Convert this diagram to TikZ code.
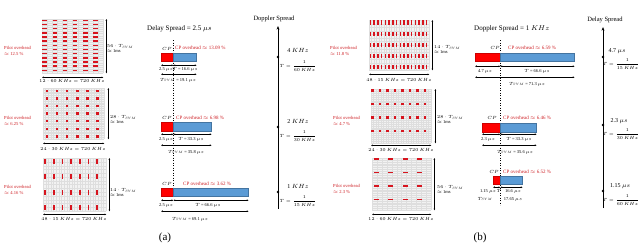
\RequirePackage{fix-cm}
\documentclass[tikz,border=0pt]{standalone}
\usepackage{amsmath}
\usepackage{fontspec}
\setmainfont{Liberation Serif}
\usetikzlibrary{arrows.meta, positioning}

\definecolor{cpred}{RGB}{255,0,0}
\definecolor{symblue}{RGB}{91,155,213}
\definecolor{ovred}{RGB}{205,30,35}
\definecolor{pilotred}{RGB}{215,20,30}

% resource grid: name, x, y, width, height, columns, rows
\newcommand{\rbgrid}[7]{%
  \node[gridbg, inner sep=0pt, minimum width=#4pt, minimum height=#5pt, anchor=north west] (#1) at (#2,#3) {};
  \foreach \i in {0,...,#6} \draw[gline] ({#2+\i*#4/#6},#3) -- ++(0,#5);
  \foreach \j in {0,...,#7} \draw[gline] (#2,{#3+\j*#5/#7}) -- ++(#4,0);
}

\begin{document}
\begin{tikzpicture}[
    x=1pt, y=-1pt,
    sm/.style={font=\fontsize{4.5}{5}\selectfont, inner sep=0pt},
    ovh/.style={font=\fontsize{5}{5.5}\selectfont, text=ovred, inner sep=0pt, anchor=west},
    pil/.style={font=\fontsize{4.6}{6}\selectfont, text=ovred, inner sep=0pt, anchor=west, align=left},
    ttl/.style={font=\fontsize{7}{8}\selectfont, inner sep=0pt},
    frq/.style={font=\fontsize{6}{7}\selectfont, inner sep=0pt},
    cpbar/.style={rectangle, fill=cpred, draw=cpred!80!black, line width=0.3pt, anchor=north west, inner sep=0pt},
    symbar/.style={rectangle, fill=symblue, draw=symblue!75!black, line width=0.3pt, anchor=north west, inner sep=0pt},
    dim/.style={{Latex[length=1.8pt,width=1.8pt]}-{Latex[length=1.8pt,width=1.8pt]}, line width=0.3pt},
    axis/.style={-{Stealth[length=3.5pt,width=3pt]}, line width=0.6pt},
    tick/.style={circle, fill=black, inner sep=0pt, minimum size=2.6pt},
    gridbg/.style={fill=gray!10},
    gline/.style={gray!26, line width=0.1pt},
    pilot/.style={fill=pilotred},
]
\useasboundingbox (0,0) rectangle (640,244);

% ── (a) resource grids ──
\rbgrid{ga1}{42}{19}{61}{54}{12}{26}
\foreach \c in {0,...,5} \foreach \r in {0,...,12}
  \fill[pilot] ({42.4+\c*10.15},{19.6+\r*4.17}) rectangle ++(4.6,1.5);
\draw[dim] ([xshift=3pt]ga1.north east) -- ([xshift=3pt]ga1.south east);
\draw[dim] ([yshift=-4pt]ga1.south west) -- ([yshift=-4pt]ga1.south east);
\node[sm, align=left, anchor=west] at (107,49) {$56\cdot T_{SYM}$\\$\approx$ 1ms};
\node[sm] at (72,81) {$12\cdot 60\ KHz = 720\ KHz$};
\node[pil] at (4,51) {Pilot overhead\\$\approx$ 12.5 \%};

\rbgrid{ga2}{43}{88}{61}{51}{24}{28}
\foreach \c in {0,...,5} \foreach \r in {0,...,6}
  \fill[pilot] ({45.6+\c*10.1},{89.6+\r*7.6}) rectangle ++(2.6,2.4);
\draw[dim] ([xshift=4pt]ga2.north east) -- ([xshift=4pt]ga2.south east);
\draw[dim] ([yshift=-4pt]ga2.south west) -- ([yshift=-4pt]ga2.south east);
\node[sm, align=left, anchor=west] at (110,120) {$28\cdot T_{SYM}$\\$\approx$ 1ms};
\node[sm] at (73,149) {$24\cdot 30\ KHz = 720\ KHz$};
\node[pil] at (4,121) {Pilot overhead\\$\approx$ 6.25 \%};

\rbgrid{ga3}{43}{158}{63}{53}{24}{14}
\foreach \c in {0,...,6} \foreach \r in {0,...,3}
  \fill[pilot] ({44.2+\c*8.7},{158.5+\r*15.5}) rectangle ++(1.6,5);
\draw[dim] ([xshift=3pt]ga3.north east) -- ([xshift=3pt]ga3.south east);
\draw[dim] ([yshift=-3pt]ga3.south west) -- ([yshift=-3pt]ga3.south east);
\node[sm, align=left, anchor=west] at (110,193) {$14\cdot T_{SYM}$\\$\approx$ 1ms};
\node[sm] at (74,219) {$48\cdot 15\ KHz = 720\ KHz$};
\node[pil] at (4,190) {Pilot overhead\\$\approx$ 4.16 \%};

% ── (a) CP timelines ──
\node[ttl, anchor=west] (dsa) at (147,29) {Delay Spread = 2.5 $\mu s$};
\coordinate (dota1) at (173,40);
\coordinate (dota2) at (173,190);
\draw[dotted, line width=0.5pt] (dota1) -- (dota2);

\node[cpbar, minimum width=12pt, minimum height=8pt] (cpa1) at (161,53) {};
\node[symbar, minimum width=23pt, minimum height=8pt] (syma1) at (cpa1.north east) {};
\node[sm] at (167,49) {$CP$};
\node[ovh] at (175,48) {CP overhead $\approx$ 13.09 \%};
\draw[dim] ([yshift=-4pt]cpa1.south west) -- ([yshift=-4pt]cpa1.south east);
\draw[dim] ([yshift=-4pt]syma1.south west) -- ([yshift=-4pt]syma1.south east);
\draw[dim] ([yshift=-13pt]cpa1.south west) -- ([yshift=-13pt]syma1.south east);
\node[sm] at (166,69) {2.5 $\mu s$};
\node[sm] at (185,69) {$T$ = 16.6 $\mu s$};
\node[sm] at (178,80) {$T_{SYM}$ = 19.1 $\mu s$};

\node[cpbar, minimum width=12pt, minimum height=9pt] (cpa2) at (161,122) {};
\node[symbar, minimum width=38pt, minimum height=9pt] (syma2) at (cpa2.north east) {};
\node[sm] at (167,118) {$CP$};
\node[ovh] at (176,118) {CP overhead $\approx$ 6.98 \%};
\draw[dim] ([yshift=-3pt]cpa2.south west) -- ([yshift=-3pt]cpa2.south east);
\draw[dim] ([yshift=-3pt]syma2.south west) -- ([yshift=-3pt]syma2.south east);
\draw[dim] ([yshift=-14pt]cpa2.south west) -- ([yshift=-14pt]syma2.south east);
\node[sm] at (166,139) {2.5 $\mu s$};
\node[sm] at (191,139) {$T$ = 33.3 $\mu s$};
\node[sm] at (186,152) {$T_{SYM}$ = 35.8 $\mu s$};

\node[cpbar, minimum width=12pt, minimum height=8pt] (cpa3) at (161,188) {};
\node[symbar, minimum width=75pt, minimum height=8pt] (syma3) at (cpa3.north east) {};
\node[sm] at (167,184) {$CP$};
\node[ovh] at (183,184) {CP overhead $\approx$ 3.62 \%};
\draw[dim] ([yshift=-4pt]cpa3.south west) -- ([yshift=-4pt]cpa3.south east);
\draw[dim] ([yshift=-4pt]syma3.south west) -- ([yshift=-4pt]syma3.south east);
\draw[dim] ([yshift=-15pt]cpa3.south west) -- ([yshift=-15pt]syma3.south east);
\node[sm] at (166,205) {2.5 $\mu s$};
\node[sm] at (208,205) {$T$ = 66.6 $\mu s$};
\node[sm] at (190,219) {$T_{SYM}$ = 69.1 $\mu s$};

% ── (a) Doppler axis ──
\coordinate (axa0) at (278,209);
\node[ttl, font=\fontsize{6.5}{7}\selectfont] (dpa) at (274,19) {Doppler Spread};
\draw[axis] (axa0) -- ([yshift=-4pt]dpa.south -| axa0);
\node[tick] (ka1) at (278,57) {};
\node[tick] (ka2) at (278,127) {};
\node[tick] (ka3) at (278,192) {};
\node[frq] at (298,50) {4 $KHz$};
\node[sm] at (298,66) {$T = \dfrac{1}{60\ KHz}$};
\node[frq] at (298,121) {2 $KHz$};
\node[sm] at (298,136) {$T = \dfrac{1}{30\ KHz}$};
\node[frq] at (298,186) {1 $KHz$};
\node[sm] at (298,201) {$T = \dfrac{1}{15\ KHz}$};

\node[font=\fontsize{11}{12}\selectfont] at (165,238) {(a)};

% ── (b) resource grids ──
\rbgrid{gb1}{369}{20}{60}{50}{24}{14}
\foreach \c in {0,...,15} \foreach \r in {0,...,4}
  \fill[pilot] ({369.6+\c*3.75},{20.3+\r*11.2}) rectangle ++(1.5,4.2);
\draw[dim] ([xshift=3pt]gb1.north east) -- ([xshift=3pt]gb1.south east);
\draw[dim] ([yshift=-4pt]gb1.south west) -- ([yshift=-4pt]gb1.south east);
\node[sm, align=left, anchor=west] at (434,50) {$14\cdot T_{SYM}$\\$\approx$ 1ms};
\node[sm] at (399,80) {$48\cdot 15\ KHz = 720\ KHz$};
\node[pil] at (330,51) {Pilot overhead\\$\approx$ 11.8 \%};

\rbgrid{gb2}{371}{89}{60}{54}{24}{28}
\foreach \c in {0,...,7} \foreach \r in {0,...,3}
  \fill[pilot] ({371.3+\c*7.5},{89.3+\r*13.4}) rectangle ++(2.4,2.4);
\draw[dim] ([xshift=4pt]gb2.north east) -- ([xshift=4pt]gb2.south east);
\draw[dim] ([yshift=-2pt]gb2.south west) -- ([yshift=-2pt]gb2.south east);
\node[sm, align=left, anchor=west] at (437,120) {$28\cdot T_{SYM}$\\$\approx$ 1ms};
\node[sm] at (401,150) {$24\cdot 30\ KHz = 720\ KHz$};
\node[pil] at (333,121) {Pilot overhead\\$\approx$ 4.7 \%};

\rbgrid{gb3}{372}{158}{59}{52}{12}{28}
\foreach \c in {0,...,3} \foreach \r in {0,...,3}
  \fill[pilot] ({373.5+\c*14.6},{158.3+\r*13.4}) rectangle ++(5,1.5);
\draw[dim] ([xshift=3pt]gb3.north east) -- ([xshift=3pt]gb3.south east);
\draw[dim] ([yshift=-4pt]gb3.south west) -- ([yshift=-4pt]gb3.south east);
\node[sm, align=left, anchor=west] at (437,190) {$56\cdot T_{SYM}$\\$\approx$ 1ms};
\node[sm] at (401,219) {$12\cdot 60\ KHz = 720\ KHz$};
\node[pil] at (333,189) {Pilot overhead\\$\approx$ 2.3 \%};

% ── (b) CP timelines ──
\node[ttl, anchor=west] (dsb) at (474,29) {Doppler Spread = 1 $KHz$};
\coordinate (dotb1) at (500,40);
\coordinate (dotb2) at (500,205);
\draw[dotted, line width=0.5pt] (dotb1) -- (dotb2);

\node[cpbar, minimum width=25pt, minimum height=8pt] (cpb1) at (475,53) {};
\node[symbar, minimum width=74pt, minimum height=8pt] (symb1) at (cpb1.north east) {};
\node[sm] at (495,48) {$CP$};
\node[ovh] at (508,48) {CP overhead $\approx$ 6.59 \%};
\draw[dim] ([yshift=-5pt]cpb1.south west) -- ([yshift=-5pt]cpb1.south east);
\draw[dim] ([yshift=-5pt]symb1.south west) -- ([yshift=-5pt]symb1.south east);
\draw[dim] ([yshift=-16pt]cpb1.south west) -- ([yshift=-16pt]symb1.south east);
\node[sm] at (485,71) {4.7 $\mu s$};
\node[sm] at (537,71) {$T$ = 66.6 $\mu s$};
\node[sm] at (527,84) {$T_{SYM}$ = 71.3 $\mu s$};

\node[cpbar, minimum width=18pt, minimum height=9pt] (cpb2) at (482,123) {};
\node[symbar, minimum width=36pt, minimum height=9pt] (symb2) at (cpb2.north east) {};
\node[sm] at (492,118) {$CP$};
\node[ovh] at (503,118) {CP overhead $\approx$ 6.46 \%};
\draw[dim] ([yshift=-2pt]cpb2.south west) -- ([yshift=-2pt]cpb2.south east);
\draw[dim] ([yshift=-2pt]symb2.south west) -- ([yshift=-2pt]symb2.south east);
\draw[dim] ([yshift=-13pt]cpb2.south west) -- ([yshift=-13pt]symb2.south east);
\node[sm] at (488,139) {2.3 $\mu s$};
\node[sm] at (519,139) {$T$ = 33.3 $\mu s$};
\node[sm] at (515,152) {$T_{SYM}$ = 35.6 $\mu s$};

\node[cpbar, minimum width=7pt, minimum height=8pt] (cpb3) at (493,176) {};
\node[symbar, minimum width=22pt, minimum height=8pt] (symb3) at (cpb3.north east) {};
\node[sm] at (494,172) {$CP$};
\node[ovh] at (503,172) {CP overhead $\approx$ 6.52 \%};
\draw[dim] ([yshift=-3pt]cpb3.south west) -- ([yshift=-3pt]cpb3.south east);
\draw[dim] ([yshift=-3pt]symb3.south west) -- ([yshift=-3pt]symb3.south east);
\node[sm] at (488,191) {1.15 $\mu s$};
\node[sm] at (499,191) {$T$};
\node[sm] at (513,191) {16.6 $\mu s$};
\node[sm] at (485,199) {$T_{SYM}$};
\node[sm] at (513,199) {17.65 $\mu s$};

% ── (b) Delay axis ──
\coordinate (axb0) at (603,208);
\node[ttl, font=\fontsize{6.5}{7}\selectfont] (dlb) at (605,20) {Delay Spread};
\draw[axis] (axb0) -- ([yshift=-4pt]dlb.south -| axb0);
\node[tick] (kb1) at (603,57) {};
\node[tick] (kb2) at (603,125) {};
\node[tick] (kb3) at (603,191) {};
\node[frq] at (617,51) {4.7 $\mu s$};
\node[sm] at (621,64) {$T = \dfrac{1}{15\ KHz}$};
\node[frq] at (619,121) {2.3 $\mu s$};
\node[sm] at (621,134) {$T = \dfrac{1}{30\ KHz}$};
\node[frq] at (620,186) {1.15 $\mu s$};
\node[sm] at (621,200) {$T = \dfrac{1}{60\ KHz}$};

\node[font=\fontsize{11}{12}\selectfont] at (480,238) {(b)};

\end{tikzpicture}
\end{document}
